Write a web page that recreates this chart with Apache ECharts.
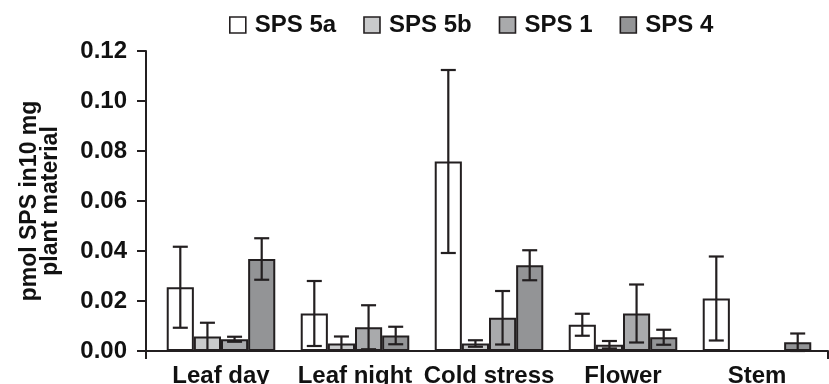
<!DOCTYPE html>
<html><head><meta charset="utf-8">
<script src="https://cdn.jsdelivr.net/npm/echarts@6/dist/echarts.min.js"></script>
<style>html,body{margin:0;padding:0;background:#fff}#c{width:829px;height:384px}</style>
</head><body><div id="c"></div>
<script>
var categories = ['Leaf day', 'Leaf night', 'Cold stress', 'Flower', 'Stem'];
var seriesNames = ['SPS 5a', 'SPS 5b', 'SPS 1', 'SPS 4'];
var sps5a = [0.0255, 0.015, 0.0758, 0.0105, 0.021];
var sps5b = [0.0058, 0.003, 0.003, 0.0025, null];
var sps1 = [0.0047, 0.0095, 0.0133, 0.015, null];
var sps4 = [0.0368, 0.0062, 0.0343, 0.0055, 0.0035];
var err5a = [0.0162, 0.013, 0.0366, 0.0044, 0.0168];
var err5b = [0.0055, 0.0028, 0.0013, 0.0015, null];
var err1 = [0.001, 0.0088, 0.0107, 0.0116, null];
var err4 = [0.0083, 0.0035, 0.006, 0.003, 0.0035];
var yTicks = [0, 0.02, 0.04, 0.06, 0.08, 0.10, 0.12];

var means = [sps5a, sps5b, sps1, sps4];
var errs = [err5a, err5b, err1, err4];
var colors = ['#ffffff', '#c9cacb', '#a9aaac', '#939496'];
var ink = '#231f20';
var font = '"Liberation Sans", Arial, Helvetica, sans-serif';
var catGapPct = 19;

var errData = [];
for (var s = 0; s < 4; s++) {
  for (var c = 0; c < categories.length; c++) {
    if (means[s][c] != null && errs[s][c] != null) {
      errData.push([c, means[s][c], errs[s][c], s]);
    }
  }
}

var series = seriesNames.map(function (n, i) {
  return {
    name: n, type: 'bar', data: means[i], xAxisIndex: 0, yAxisIndex: 0,
    barGap: '0%', barCategoryGap: catGapPct + '%',
    itemStyle: { color: colors[i], borderColor: ink, borderWidth: 2 }
  };
});
series.push({
  type: 'custom', name: 'err', data: errData, z: 10, xAxisIndex: 0, yAxisIndex: 0,
  encode: { x: 0, y: 1 },
  renderItem: function (params, api) {
    var c = api.value(0), m = api.value(1), e = api.value(2), s = api.value(3);
    var band = api.size([1, 0])[0];
    var bw = band * (1 - catGapPct / 100) / 4;
    var center = api.coord([c, m]);
    var x = center[0] + (s - 1.5) * bw;
    var lo = Math.max(0, m - e), hi = m + e;
    var yHi = api.coord([c, hi])[1], yLo = api.coord([c, lo])[1];
    var cap = 7.5;
    var st = { stroke: ink, lineWidth: 2.2 };
    return { type: 'group', children: [
      { type: 'line', shape: { x1: x, y1: yHi, x2: x, y2: yLo }, style: st },
      { type: 'line', shape: { x1: x - cap, y1: yHi, x2: x + cap, y2: yHi }, style: st },
      { type: 'line', shape: { x1: x - cap, y1: yLo, x2: x + cap, y2: yLo }, style: st }
    ]};
  }
});

var chart = echarts.init(document.getElementById('c'));
chart.setOption({
  animation: false,
  backgroundColor: '#fff',
  textStyle: { fontFamily: font },
  legend: {
    data: seriesNames, top: 8, left: 224,
    itemWidth: 16, itemHeight: 16, itemGap: 27, icon: 'rect',
    itemStyle: { borderWidth: 1.6 },
    textStyle: { fontSize: 24, fontWeight: 'bold', color: '#111', fontFamily: font, padding: [0, 0, 0, 4] }
  },
  grid: [
    { left: 154, right: 5, top: 51, bottom: 33, containLabel: false, outerBoundsMode: 'none' },
    { left: 146, right: 1, top: 51, bottom: 33, containLabel: false, outerBoundsMode: 'none' }
  ],
  xAxis: [{
    gridIndex: 0, type: 'category', data: categories,
    axisLine: { show: false },
    axisTick: { show: false },
    axisLabel: { fontSize: 24, fontWeight: 'bold', color: '#111', margin: 13, fontFamily: font, interval: 0 }
  }, {
    gridIndex: 1, type: 'value', min: 0, max: 1, interval: 1,
    axisLine: { show: true, lineStyle: { color: ink, width: 2 } },
    axisLabel: { show: false }, splitLine: { show: false },
    axisTick: { show: true, length: 8, lineStyle: { color: ink, width: 2 } }
  }],
  yAxis: [{
    gridIndex: 0, type: 'value', min: 0, max: 0.12, interval: 0.02,
    axisLine: { show: false }, axisTick: { show: false }, axisLabel: { show: false }, splitLine: { show: false }
  }, {
    gridIndex: 1, type: 'value', min: 0, max: 0.12, interval: 0.02,
    name: 'pmol SPS in10 mg\nplant material',
    nameLocation: 'middle', nameGap: 85,
    nameTextStyle: { fontSize: 23, fontWeight: 'bold', color: '#111', lineHeight: 21, fontFamily: font },
    axisLine: { show: true, lineStyle: { color: ink, width: 2 } },
    axisTick: { show: true, length: 9, lineStyle: { color: ink, width: 2 } },
    splitLine: { show: false },
    axisLabel: { fontSize: 24, fontWeight: 'bold', color: '#111', margin: 19, fontFamily: font,
      formatter: function (v) { return v.toFixed(2); } }
  }],
  series: series
});
</script></body></html>
